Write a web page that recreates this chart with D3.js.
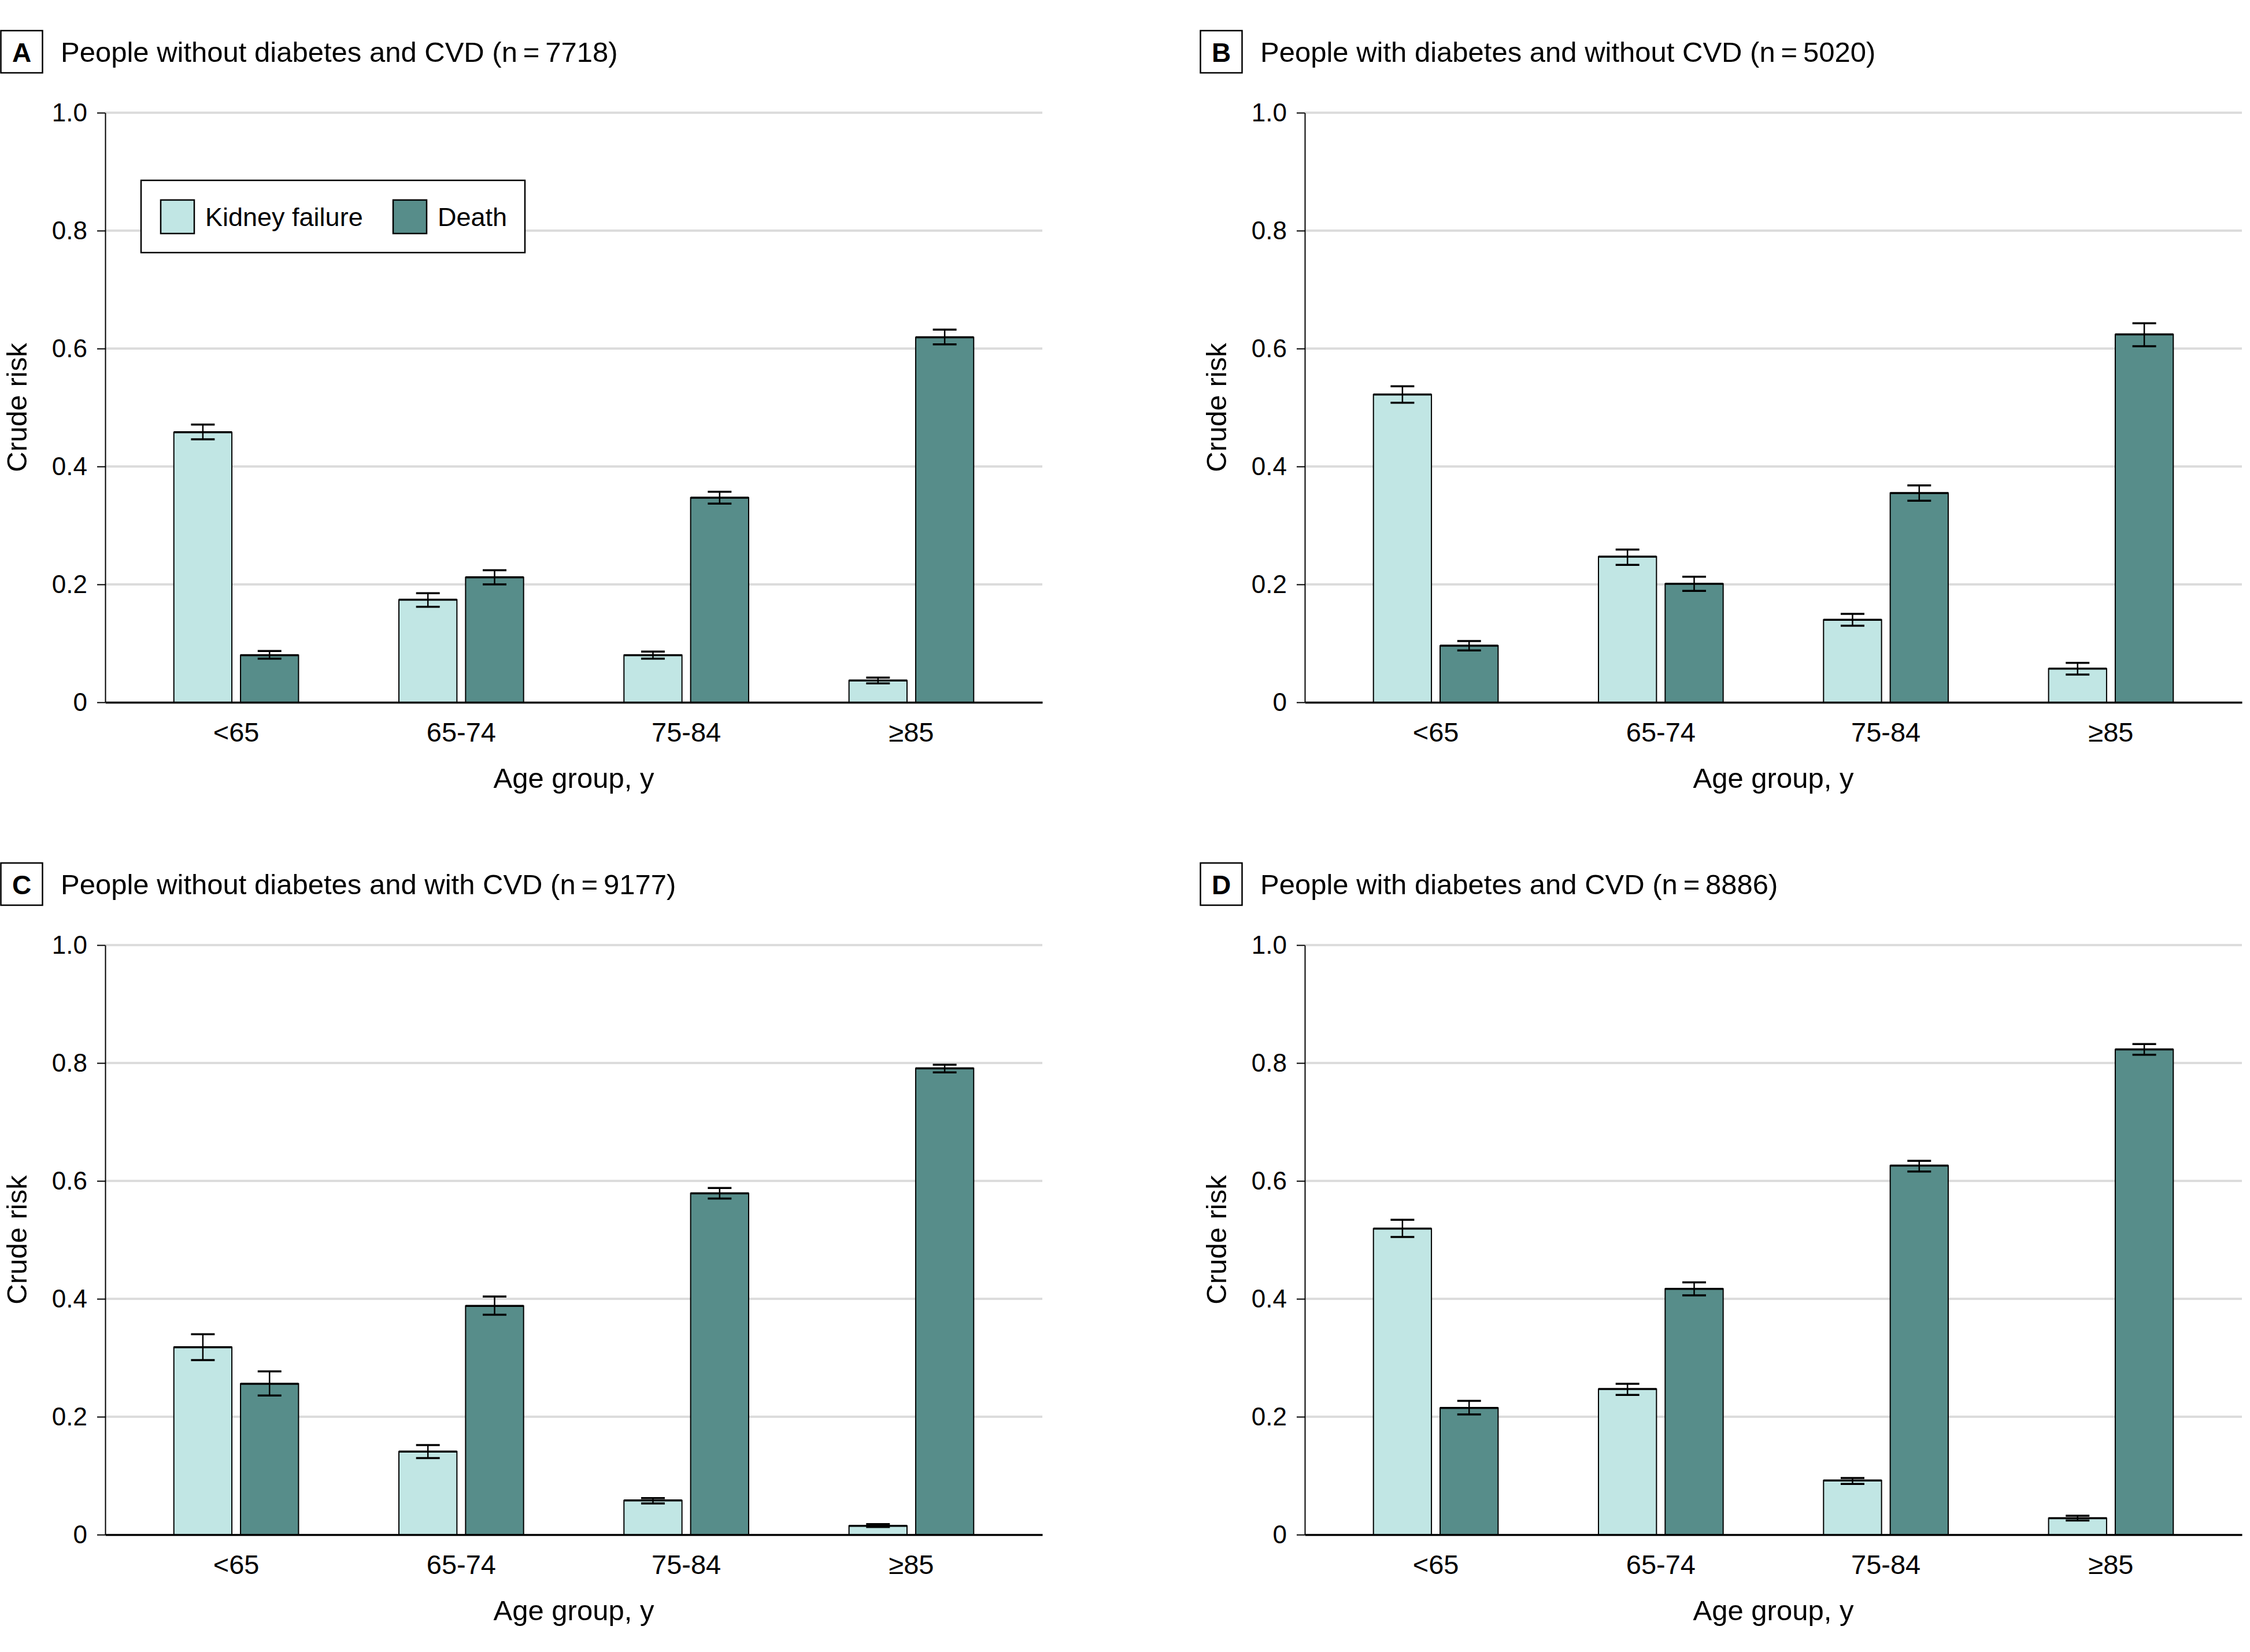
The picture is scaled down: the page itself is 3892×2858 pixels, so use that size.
<!DOCTYPE html>
<html><head><meta charset="utf-8">
<script src="https://cdn.jsdelivr.net/npm/d3@7"></script>
<style>
body{margin:0;background:#fff}
svg{display:block}
text{font-family:"Liberation Sans",Arial,sans-serif;fill:#000}
</style>
</head><body>
<svg id="chart" width="3892" height="2858"></svg>
<script>
// ---------- DATA ----------
const categories = ["<65", "65-74", "75-84", "≥85"];
const seriesNames = ["Kidney failure", "Death"];
const yTicks = [0, 0.2, 0.4, 0.6, 0.8, 1.0];
const panelLetters = ["A", "B", "C", "D"];
const panelTitles = [
  "People without diabetes and CVD (n\u2009=\u20097718)",
  "People with diabetes and without CVD (n\u2009=\u20095020)",
  "People without diabetes and with CVD (n\u2009=\u20099177)",
  "People with diabetes and CVD (n\u2009=\u20098886)"
];
const yLabel = "Crude risk";
const xLabel = "Age group, y";

// Panel A
const kidneyA     = [0.458, 0.174, 0.080, 0.037];
const kidneyALow  = [0.446, 0.162, 0.074, 0.032];
const kidneyAHigh = [0.471, 0.185, 0.086, 0.042];
const deathA      = [0.080, 0.212, 0.347, 0.619];
const deathALow   = [0.074, 0.200, 0.337, 0.607];
const deathAHigh  = [0.087, 0.224, 0.357, 0.632];
// Panel B
const kidneyB     = [0.522, 0.247, 0.140, 0.057];
const kidneyBLow  = [0.508, 0.233, 0.130, 0.047];
const kidneyBHigh = [0.536, 0.259, 0.150, 0.067];
const deathB      = [0.096, 0.201, 0.355, 0.624];
const deathBLow   = [0.088, 0.189, 0.342, 0.604];
const deathBHigh  = [0.104, 0.213, 0.368, 0.643];
// Panel C
const kidneyC     = [0.318, 0.141, 0.058, 0.015];
const kidneyCLow  = [0.296, 0.130, 0.053, 0.013];
const kidneyCHigh = [0.340, 0.152, 0.062, 0.018];
const deathC      = [0.256, 0.388, 0.579, 0.791];
const deathCLow   = [0.236, 0.373, 0.570, 0.784];
const deathCHigh  = [0.277, 0.404, 0.588, 0.797];
// Panel D
const kidneyD     = [0.519, 0.247, 0.092, 0.028];
const kidneyDLow  = [0.505, 0.237, 0.086, 0.024];
const kidneyDHigh = [0.534, 0.256, 0.096, 0.032];
const deathD      = [0.215, 0.417, 0.626, 0.823];
const deathDLow   = [0.204, 0.406, 0.616, 0.814];
const deathDHigh  = [0.227, 0.428, 0.634, 0.832];

const panelData = [
  {kidney: kidneyA, kLo: kidneyALow, kHi: kidneyAHigh, death: deathA, dLo: deathALow, dHi: deathAHigh},
  {kidney: kidneyB, kLo: kidneyBLow, kHi: kidneyBHigh, death: deathB, dLo: deathBLow, dHi: deathBHigh},
  {kidney: kidneyC, kLo: kidneyCLow, kHi: kidneyCHigh, death: deathC, dLo: deathCLow, dHi: deathCHigh},
  {kidney: kidneyD, kLo: kidneyDLow, kHi: kidneyDHigh, death: deathD, dLo: deathDLow, dHi: deathDHigh}
];

// ---------- STYLE / LAYOUT ----------
const colors = {"Kidney failure": "#c1e6e4", "Death": "#578d8a"};
const colOffsets = [0, 2075];
const rowOffsets = [0, 1440];
const plotLeft = 182, plotRight = 1803, plotTop = 195, plotBottom = 1215;

const svg = d3.select("#chart");

panelData.forEach((pd, i) => {
  const ox = colOffsets[i % 2], oy = rowOffsets[Math.floor(i / 2)];
  const g = svg.append("g").attr("transform", `translate(${ox},${oy})`);

  const x = d3.scaleBand().domain(categories).range([plotLeft, plotRight])
    .paddingInner(0.446).paddingOuter(0.305);
  const xs = d3.scaleBand().domain(seriesNames).range([0, x.bandwidth()])
    .paddingInner(0.13).paddingOuter(0);
  const y = d3.scaleLinear().domain([0, 1]).range([plotBottom, plotTop]);

  // Panel letter box + title
  g.append("rect").attr("x", 1.5).attr("y", 53).attr("width", 72).attr("height", 73)
    .attr("fill", "#fff").attr("stroke", "#000").attr("stroke-width", 2.5);
  g.append("text").attr("x", 37.5).attr("y", 107).attr("text-anchor", "middle")
    .attr("font-size", 46).attr("font-weight", "bold").text(panelLetters[i]);
  g.append("text").attr("x", 105).attr("y", 107).attr("font-size", 49).text(panelTitles[i]);

  // Gridlines
  g.append("g").selectAll("line").data(yTicks.filter(t => t > 0)).join("line")
    .attr("x1", plotLeft).attr("x2", plotRight)
    .attr("y1", d => y(d)).attr("y2", d => y(d))
    .attr("stroke", "#dcdcdc").attr("stroke-width", 4);

  // Legend (panel A only)
  if (i === 0) {
    const lg = g.append("g");
    lg.append("rect").attr("x", 244).attr("y", 312).attr("width", 664).attr("height", 125)
      .attr("fill", "#fff").attr("stroke", "#000").attr("stroke-width", 2.5);
    const items = [{name: "Kidney failure", sx: 278, tx: 355}, {name: "Death", sx: 680, tx: 757}];
    items.forEach(it => {
      lg.append("rect").attr("x", it.sx).attr("y", 346).attr("width", 58).attr("height", 58)
        .attr("fill", colors[it.name]).attr("stroke", "#000").attr("stroke-width", 2.5);
      lg.append("text").attr("x", it.tx).attr("y", 391).attr("font-size", 45).text(it.name);
    });
  }

  // Bars
  const rows = categories.map((c, j) => ([
    {cat: c, s: "Kidney failure", v: pd.kidney[j], lo: pd.kLo[j], hi: pd.kHi[j]},
    {cat: c, s: "Death", v: pd.death[j], lo: pd.dLo[j], hi: pd.dHi[j]}
  ])).flat();

  g.append("g").selectAll("rect").data(rows).join("rect")
    .attr("x", d => x(d.cat) + xs(d.s))
    .attr("y", d => y(d.v))
    .attr("width", xs.bandwidth())
    .attr("height", d => y(0) - y(d.v))
    .attr("fill", d => colors[d.s])
    .attr("stroke", "#000").attr("stroke-width", 2);

  // Bar top emphasis
  g.append("g").selectAll("line").data(rows).join("line")
    .attr("x1", d => x(d.cat) + xs(d.s)).attr("x2", d => x(d.cat) + xs(d.s) + xs.bandwidth())
    .attr("y1", d => y(d.v)).attr("y2", d => y(d.v))
    .attr("stroke", "#000").attr("stroke-width", 3.5);

  // Error bars
  const eb = g.append("g").attr("stroke", "#000");
  const cx = d => x(d.cat) + xs(d.s) + xs.bandwidth() / 2;
  const capW = 41;
  eb.selectAll(".v").data(rows).join("line").attr("class", "v")
    .attr("x1", cx).attr("x2", cx).attr("y1", d => y(d.lo)).attr("y2", d => y(d.hi))
    .attr("stroke-width", 2.5);
  eb.selectAll(".c1").data(rows).join("line").attr("class", "c1")
    .attr("x1", d => cx(d) - capW / 2).attr("x2", d => cx(d) + capW / 2)
    .attr("y1", d => y(d.lo)).attr("y2", d => y(d.lo)).attr("stroke-width", 3.5);
  eb.selectAll(".c2").data(rows).join("line").attr("class", "c2")
    .attr("x1", d => cx(d) - capW / 2).attr("x2", d => cx(d) + capW / 2)
    .attr("y1", d => y(d.hi)).attr("y2", d => y(d.hi)).attr("stroke-width", 3.5);

  // Y axis
  const ya = g.append("g").attr("transform", `translate(${plotLeft},0)`)
    .call(d3.axisLeft(y).tickValues(yTicks).tickSize(14).tickSizeOuter(0).tickPadding(17)
      .tickFormat(d => d === 0 ? "0" : d.toFixed(1)));
  ya.select(".domain").attr("stroke", "#000").attr("stroke-width", 2);
  ya.selectAll(".tick line").attr("stroke", "#000").attr("stroke-width", 2);
  ya.selectAll(".tick text").attr("font-size", 44).attr("font-family", "Liberation Sans, Arial, sans-serif").attr("fill", "#000");

  // X axis
  const xa = g.append("g").attr("transform", `translate(0,${plotBottom})`)
    .call(d3.axisBottom(x).tickSize(0).tickSizeOuter(0).tickPadding(35));
  xa.select(".domain").attr("stroke", "#000").attr("stroke-width", 3.5);
  xa.selectAll(".tick text").attr("font-size", 47).attr("font-family", "Liberation Sans, Arial, sans-serif").attr("fill", "#000");

  // Axis titles
  g.append("text").attr("transform", `translate(46,${(plotTop + plotBottom) / 2}) rotate(-90)`)
    .attr("text-anchor", "middle").attr("font-size", 49).text(yLabel);
  g.append("text").attr("x", (plotLeft + plotRight) / 2).attr("y", 1363)
    .attr("text-anchor", "middle").attr("font-size", 49).text(xLabel);
});
</script>
</body></html>
